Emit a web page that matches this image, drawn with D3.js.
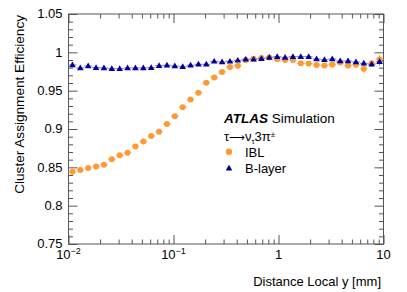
<!DOCTYPE html>
<html><head><meta charset="utf-8">
<script src="https://cdn.jsdelivr.net/npm/d3@7"></script>
<style>
body{margin:0;background:#fff;}
svg{display:block;font-family:"Liberation Sans",Arial,sans-serif;}
</style></head>
<body>
<svg id="c" width="407" height="292"></svg>
<script>
// ---- data ----
const xCenters = [0.0109,0.01296,0.0154,0.0183,0.02176,0.02586,0.03073,0.03652,0.04341,0.0516,
  0.06132,0.07289,0.0866,0.1029,0.1223,0.1454,0.1728,0.2054,0.2441,0.2901,
  0.3448,0.4097,0.487,0.5788,0.6879,0.8175,0.9716,1.155,1.372,1.631,
  1.938,2.304,2.738,3.254,3.868,4.597,5.464,6.494,7.718,9.173];
const iblEff = [0.8442,0.8464,0.8491,0.8511,0.8533,0.8606,0.8658,0.8691,0.8773,0.8837,
  0.8909,0.8965,0.9065,0.9166,0.9283,0.9384,0.9474,0.9604,0.9672,0.9744,
  0.9809,0.9826,0.9900,0.9916,0.9926,0.9933,0.9909,0.9900,0.9900,0.9857,
  0.9854,0.9835,0.9828,0.9841,0.9866,0.9828,0.9839,0.9785,0.9857,0.9910];
const iblErr = [0.002,0.002,0.002,0.002,0.002,0.002,0.002,0.002,0.002,0.002,
  0.002,0.002,0.002,0.002,0.002,0.002,0.002,0.002,0.002,0.002,
  0.002,0.002,0.002,0.002,0.002,0.002,0.002,0.002,0.002,0.0025,
  0.0025,0.003,0.003,0.003,0.003,0.004,0.004,0.006,0.004,0.006];
const blEff = [0.9835,0.9796,0.9822,0.9800,0.9796,0.9787,0.9787,0.9796,0.9796,0.9796,
  0.9800,0.9826,0.9831,0.9822,0.9813,0.9831,0.9844,0.9844,0.9883,0.9874,
  0.9883,0.9896,0.9909,0.9909,0.9917,0.9935,0.9943,0.9935,0.9943,0.9943,
  0.9943,0.9913,0.9904,0.9913,0.9887,0.9887,0.9874,0.9857,0.9844,0.9878];
const blErr = [0.001,0.001,0.001,0.001,0.001,0.001,0.001,0.001,0.001,0.001,
  0.001,0.001,0.001,0.001,0.001,0.001,0.001,0.001,0.001,0.001,
  0.001,0.001,0.001,0.001,0.001,0.001,0.001,0.001,0.001,0.001,
  0.001,0.001,0.0012,0.0012,0.0015,0.002,0.002,0.003,0.003,0.005];
const yTicks = [0.75,0.8,0.85,0.9,0.95,1,1.05];
const yTickLabels = ["0.75","0.8","0.85","0.9","0.95","1","1.05"];
const xTicks = [0.01,0.1,1,10];
const xTickBase = ["10","10","1","10"];
const xTickExp = ["\u22122","\u22121","",""];

// ---- layout ----
const svg = d3.select("#c");
const L=68.5,R=383.5,T=14,B=244;
const x = d3.scaleLog().domain([0.01,10]).range([L,R]);
const y = d3.scaleLinear().domain([0.75,1.05]).range([B,T]);
const axisCol = "#555";
const halfBin = Math.pow(10,0.0375);

svg.append("rect").attr("width",407).attr("height",292).attr("fill","#fff");

const xMinor = x.ticks().filter(v => xTicks.indexOf(v) < 0);
const yMinor = d3.range(75,106,1).map(v=>v/100).filter(v => !yTicks.some(t=>Math.abs(t-v)<1e-6));

function styleAxis(g){
  g.select(".domain").remove();
  g.selectAll("line").attr("stroke",axisCol).attr("stroke-width",1);
  g.selectAll("text").remove();
}
svg.append("g").attr("transform",`translate(0,${B})`).call(d3.axisBottom(x).tickValues(xTicks).tickSize(-9).tickFormat("")).call(styleAxis);
svg.append("g").attr("transform",`translate(0,${B})`).call(d3.axisBottom(x).tickValues(xMinor).tickSize(-4.5).tickFormat("")).call(styleAxis);
svg.append("g").attr("transform",`translate(0,${T})`).call(d3.axisTop(x).tickValues(xTicks).tickSize(-9).tickFormat("")).call(styleAxis);
svg.append("g").attr("transform",`translate(0,${T})`).call(d3.axisTop(x).tickValues(xMinor).tickSize(-4.5).tickFormat("")).call(styleAxis);
svg.append("g").attr("transform",`translate(${L},0)`).call(d3.axisLeft(y).tickValues(yTicks).tickSize(-9).tickFormat("")).call(styleAxis);
svg.append("g").attr("transform",`translate(${L},0)`).call(d3.axisLeft(y).tickValues(yMinor).tickSize(-4.5).tickFormat("")).call(styleAxis);
svg.append("g").attr("transform",`translate(${R},0)`).call(d3.axisRight(y).tickValues(yTicks).tickSize(-9).tickFormat("")).call(styleAxis);
svg.append("g").attr("transform",`translate(${R},0)`).call(d3.axisRight(y).tickValues(yMinor).tickSize(-4.5).tickFormat("")).call(styleAxis);

svg.append("rect").attr("x",L).attr("y",T).attr("width",R-L).attr("height",B-T)
  .attr("fill","none").attr("stroke",axisCol).attr("stroke-width",1);

// tick labels
svg.append("g").selectAll("text").data(yTicks).join("text")
  .attr("x",L-6).attr("y",d=>y(d)+4.4).attr("text-anchor","end")
  .attr("font-size",13).attr("fill","#000").text((d,i)=>yTickLabels[i]);
const xl = svg.append("g").selectAll("text").data(xTicks).join("text")
  .attr("x",d=>x(d)).attr("y",259).attr("text-anchor","middle")
  .attr("font-size",13).attr("fill","#000");
xl.append("tspan").text((d,i)=>xTickBase[i]);
xl.append("tspan").attr("dy",-5).attr("font-size",9).text((d,i)=>xTickExp[i]);

// axis titles
svg.append("text").attr("x",381).attr("y",286).attr("text-anchor","end")
  .attr("font-size",13).text("Distance Local y [mm]");
svg.append("text").attr("transform",`translate(23.5,${T+1}) rotate(-90)`).attr("text-anchor","end")
  .attr("font-size",13.6).text("Cluster Assignment Efficiency");

// series
function drawSeries(vals, errs, col, lightCol, marker){
  const g = svg.append("g");
  const d = xCenters.map((xc,i)=>({x:xc,v:vals[i],e:errs[i]}));
  g.selectAll(".h").data(d).join("line")
    .attr("x1",p=>x(p.x/halfBin)).attr("x2",p=>x(p.x*halfBin))
    .attr("y1",p=>y(p.v)).attr("y2",p=>y(p.v))
    .attr("stroke",lightCol).attr("stroke-width",1);
  g.selectAll(".v").data(d).join("line")
    .attr("x1",p=>x(p.x)).attr("x2",p=>x(p.x))
    .attr("y1",p=>y(p.v-p.e)).attr("y2",p=>y(p.v+p.e))
    .attr("stroke",lightCol).attr("stroke-width",1);
  if(marker==="circle"){
    g.selectAll("circle").data(d).join("circle")
      .attr("cx",p=>x(p.x)).attr("cy",p=>y(p.v)).attr("r",3).attr("fill",col);
  } else {
    g.selectAll("path").data(d).join("path")
      .attr("d",d3.symbol(d3.symbolTriangle,19))
      .attr("transform",p=>`translate(${x(p.x)},${y(p.v)+0.4})`).attr("fill",col);
  }
}
drawSeries(iblEff, iblErr, "#ff9933", "#ffbb77", "circle");
drawSeries(blEff, blErr, "#000099", "#7777cc", "triangle");

// legend / labels
const t1 = svg.append("text").attr("x",224).attr("y",123).attr("font-size",13.5);
t1.append("tspan").attr("font-weight","bold").attr("font-style","italic").text("ATLAS");
t1.append("tspan").text(" Simulation");
const t2 = svg.append("text").attr("x",224).attr("y",141).attr("font-size",13);
t2.append("tspan").text("\u03c4");
t2.append("tspan").attr("font-family","DejaVu Sans").attr("font-size",11).text("\u27f6");
t2.append("tspan").text("\u03bd");
t2.append("tspan").attr("font-size",8).attr("dy",2.5).text("\u03c4");
t2.append("tspan").attr("dy",-2.5).text("3\u03c0");
t2.append("tspan").attr("font-size",8).attr("dy",-4.5).text("\u00b1");
svg.append("circle").attr("cx",229).attr("cy",151.7).attr("r",3.2).attr("fill","#ff9933");
svg.append("text").attr("x",245).attr("y",156.6).attr("font-size",13).text("IBL");
svg.append("path").attr("d",d3.symbol(d3.symbolTriangle,19)).attr("transform","translate(229,168.6)").attr("fill","#000099");
svg.append("text").attr("x",245).attr("y",173.2).attr("font-size",13).text("B-layer");
</script>
</body></html>
